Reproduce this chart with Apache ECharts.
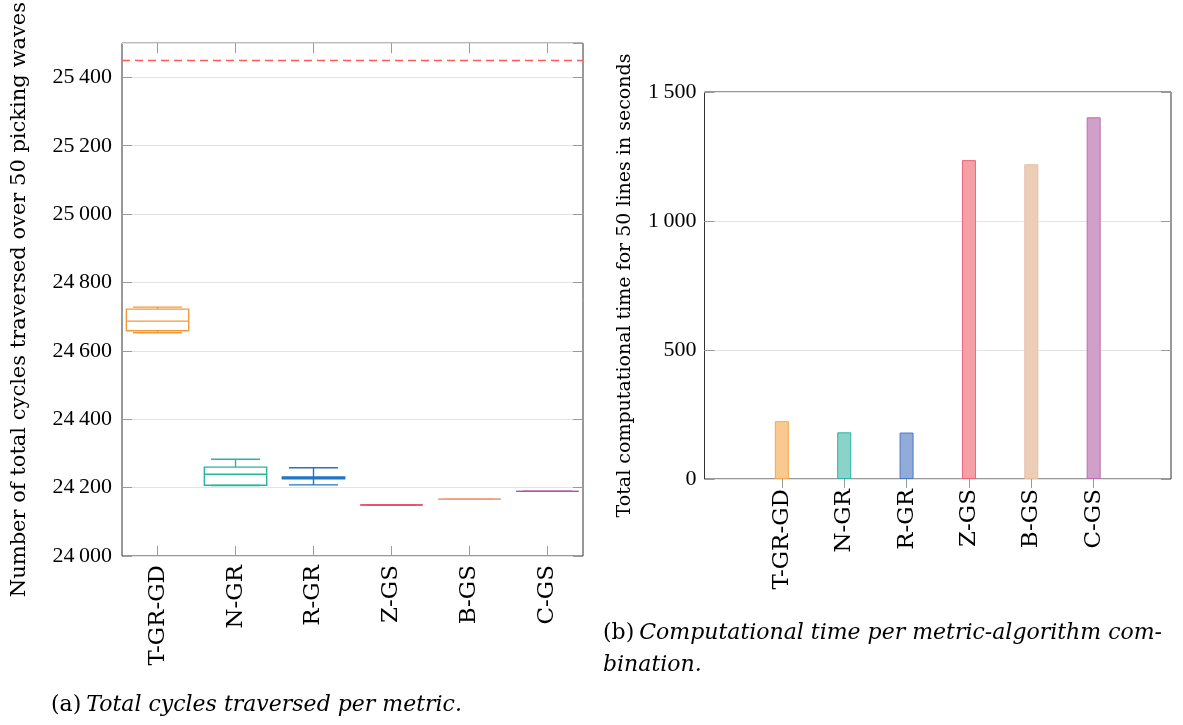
<!DOCTYPE html>
<html><head><meta charset="utf-8">
<script src="https://cdn.jsdelivr.net/npm/echarts@6/dist/echarts.min.js"></script>
<style>html,body{margin:0;padding:0;background:#fff}#c{width:1183px;height:725px}</style>
</head><body><div id="c"></div>
<script>
// ---- data ----
const categories = ['T-GR-GD', 'N-GR', 'R-GR', 'Z-GS', 'B-GS', 'C-GS'];
const categoryIndex = [0, 1, 2, 3, 4, 5];
const boxMin    = [24653, 24206, 24208, 24149, 24166, 24189];
const boxQ1     = [24659, 24207, 24226, 24149, 24166, 24189];
const boxMedian = [24687, 24239, 24229, 24149, 24166, 24189];
const boxQ3     = [24722, 24260, 24231, 24149, 24166, 24189];
const boxMax    = [24728, 24283, 24258, 24149, 24166, 24189];
const referenceLine = 25450;
const timeSeconds = [224, 181, 180, 1236, 1220, 1402];
const leftYRange = [24000, 25500];
const rightYRange = [0, 1500];

// ---- styles ----
const boxColors = ['#f2993a', '#26b5a0', '#1f77c4', '#e8536b', '#f0a080', '#b0559f'];
const barFill   = ['#f9c98f', '#8ad3ca', '#91acd9', '#f5a0a5', '#eccdb6', '#d0a0c8'];
const barStroke = ['#f3a755', '#2ab5a5', '#4a78c0', '#ec6479', '#e6bfa0', '#b96fae'];
const NUMFONT = 'Liberation Serif';
const TXTFONT = 'DejaVu Serif';
const NUMFS = 22;
const TXTFS = 21;
const CATFS = 23;
const CAPFS = 22;

function fmt(v) {
  const s = String(Math.round(v));
  if (s.length <= 3) return s;
  return s.slice(0, s.length - 3) + '\u2009' + s.slice(s.length - 3);
}

const boxData = categoryIndex.map(i => [i, boxMin[i], boxQ1[i], boxMedian[i], boxQ3[i], boxMax[i]]);
const barData = categoryIndex.map(i => ({
  value: [i, timeSeconds[i]],
  itemStyle: { color: barFill[i], borderColor: barStroke[i], borderWidth: 1 }
}));

function renderBox(params, api) {
  const x = api.value(0);
  const pMin = api.coord([x, api.value(1)]);
  const pQ1 = api.coord([x, api.value(2)]);
  const pMed = api.coord([x, api.value(3)]);
  const pQ3 = api.coord([x, api.value(4)]);
  const pMax = api.coord([x, api.value(5)]);
  const unit = api.size([1, 0])[0];
  const half = unit * 0.40;
  const cap = unit * 0.315;
  const cx = pMed[0];
  const style = { stroke: boxColors[params.dataIndex], lineWidth: 1.4, fill: null };
  const line = (x1, y1, x2, y2) => ({ type: 'line', shape: { x1, y1, x2, y2 }, style });
  return {
    type: 'group',
    children: [
      line(cx, pQ3[1], cx, pMax[1]),
      line(cx, pQ1[1], cx, pMin[1]),
      line(cx - cap, pMax[1], cx + cap, pMax[1]),
      line(cx - cap, pMin[1], cx + cap, pMin[1]),
      { type: 'rect', shape: { x: cx - half, y: pQ3[1], width: 2 * half, height: pQ1[1] - pQ3[1] }, style },
      line(cx - half, pMed[1], cx + half, pMed[1])
    ]
  };
}

const numLabel = { color: '#000', fontFamily: NUMFONT, fontSize: NUMFS };
const catLabel = { color: '#000', fontFamily: TXTFONT, fontSize: CATFS };
const tickStyle = { color: '#9a9a9a', width: 1 };
const gridLine = { show: true, lineStyle: { color: '#e3e3e3', width: 1 } };
const noLine = { show: false, onZero: false };
const richCap = {
  u: { fontFamily: TXTFONT, fontSize: CAPFS, color: '#000', fontWeight: 'normal', lineHeight: 32 },
  i: { fontFamily: TXTFONT, fontSize: CAPFS, fontStyle: 'italic', fontWeight: 'normal', color: '#000', lineHeight: 32 }
};

const chart = echarts.init(document.getElementById('c'), null, { renderer: 'canvas' });
chart.setOption({
  animation: false,
  backgroundColor: '#fff',
  title: [
    {
      text: '{u|(a)} {i|Total cycles traversed per metric.}',
      left: 46, top: 684,
      textStyle: { fontWeight: 'normal', rich: richCap }
    },
    {
      text: '{u|(b)} {i|Computational time per metric-algorithm com-}\n{i|bination.}',
      left: 598, top: 612,
      textStyle: { fontWeight: 'normal', lineHeight: 32, rich: richCap }
    }
  ],
  grid: [
    { left: 122, top: 43, width: 461, height: 513, show: true, borderColor: '#333', borderWidth: 1, containLabel: false },
    { left: 704.5, top: 92, width: 466.5, height: 387, show: true, borderColor: '#333', borderWidth: 1, containLabel: false }
  ],
  xAxis: [
    { gridIndex: 0, type: 'value', min: -0.456, max: 5.456, position: 'bottom',
      axisLine: noLine, splitLine: { show: false },
      axisTick: { show: true, inside: true, length: 10, lineStyle: tickStyle, customValues: categoryIndex },
      axisLabel: { ...catLabel, rotate: 90, margin: 9, customValues: categoryIndex, formatter: v => categories[Math.round(v)] } },
    { gridIndex: 0, type: 'value', min: -0.456, max: 5.456, position: 'top',
      axisLine: noLine, splitLine: { show: false },
      axisTick: { show: true, inside: true, length: 10, lineStyle: tickStyle, customValues: categoryIndex },
      axisLabel: { show: false } },
    { gridIndex: 1, type: 'value', min: -1.24, max: 6.24, position: 'bottom',
      axisLine: noLine, splitLine: { show: false },
      axisTick: { show: true, inside: false, length: 9, lineStyle: tickStyle, customValues: categoryIndex },
      axisLabel: { ...catLabel, rotate: 90, margin: 10, customValues: categoryIndex, formatter: v => categories[Math.round(v)] } }
  ],
  yAxis: [
    { gridIndex: 0, type: 'value', min: leftYRange[0], max: leftYRange[1], interval: 200, position: 'left',
      name: 'Number of total cycles traversed over 50 picking waves', nameLocation: 'middle', nameGap: 92, nameRotate: 90,
      nameTextStyle: { color: '#000', fontFamily: TXTFONT, fontSize: TXTFS },
      axisLine: noLine, splitLine: gridLine,
      axisTick: { show: true, inside: true, length: 10, lineStyle: tickStyle },
      axisLabel: { ...numLabel, margin: 10, showMaxLabel: false, formatter: fmt } },
    { gridIndex: 0, type: 'value', min: leftYRange[0], max: leftYRange[1], interval: 200, position: 'right',
      axisLine: noLine, splitLine: { show: false },
      axisTick: { show: true, inside: true, length: 10, lineStyle: tickStyle },
      axisLabel: { show: false } },
    { gridIndex: 1, type: 'value', min: rightYRange[0], max: rightYRange[1], interval: 500, position: 'left',
      name: 'Total computational time for 50 lines in seconds', nameLocation: 'middle', nameGap: 70, nameRotate: 90,
      nameTextStyle: { color: '#000', fontFamily: TXTFONT, fontSize: 19 },
      axisLine: noLine, splitLine: gridLine,
      axisTick: { show: true, inside: true, length: 10, lineStyle: tickStyle },
      axisLabel: { ...numLabel, margin: 8, formatter: fmt } },
    { gridIndex: 1, type: 'value', min: rightYRange[0], max: rightYRange[1], interval: 500, position: 'right',
      axisLine: noLine, splitLine: { show: false },
      axisTick: { show: true, inside: true, length: 10, lineStyle: tickStyle },
      axisLabel: { show: false } }
  ],
  series: [
    { type: 'custom', xAxisIndex: 0, yAxisIndex: 0, data: boxData, renderItem: renderBox,
      encode: { x: 0, y: [1, 2, 3, 4, 5] }, z: 3,
      markLine: { silent: true, symbol: 'none', label: { show: false },
        lineStyle: { color: '#ff5a5a', width: 1.4, type: [8, 5] },
        data: [{ yAxis: referenceLine }] } },
    { type: 'bar', xAxisIndex: 2, yAxisIndex: 2, data: barData, barWidth: 14 }
  ]
});
</script></body></html>
